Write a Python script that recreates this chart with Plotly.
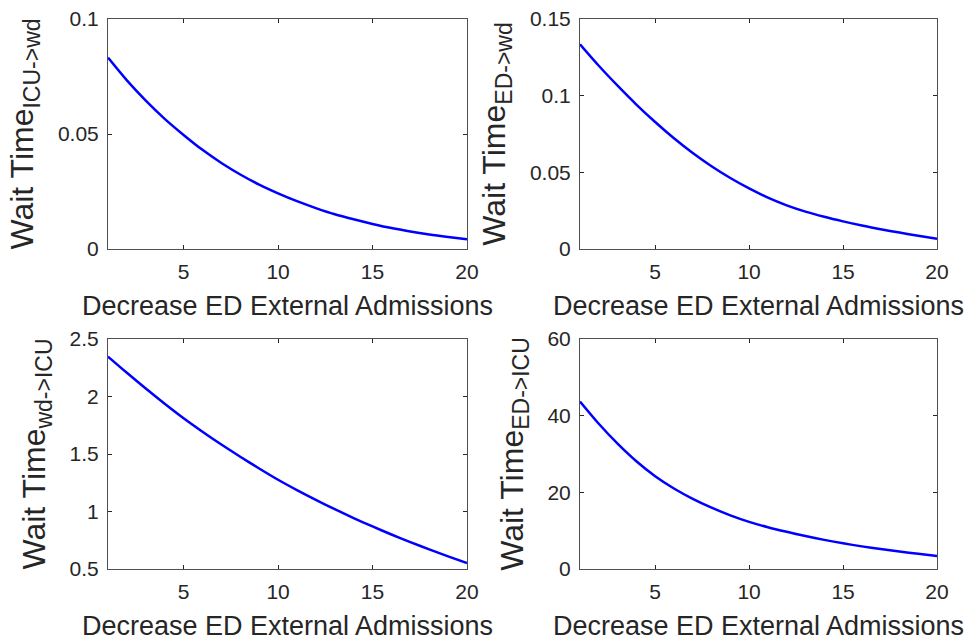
import plotly.graph_objects as go

# Decrease in ED external admissions (x axis, shared by all panels)
decrease = list(range(1, 21))

# Mean wait times for each transfer path
wait_icu_wd = [0.0832, 0.0733, 0.0645, 0.0566, 0.0496, 0.0431, 0.0374, 0.0324, 0.0280, 0.0242,
               0.0208, 0.0178, 0.0151, 0.0129, 0.0109, 0.0091, 0.0076, 0.0063, 0.0052, 0.0042]
wait_ed_wd = [0.1335, 0.1195, 0.1065, 0.0942, 0.0828, 0.0722, 0.0626, 0.0540, 0.0463, 0.0395,
              0.0335, 0.0285, 0.0244, 0.0210, 0.0180, 0.0153, 0.0129, 0.0107, 0.0086, 0.0067]
wait_wd_icu = [2.347, 2.206, 2.069, 1.937, 1.811, 1.694, 1.582, 1.476, 1.374, 1.276,
               1.186, 1.101, 1.020, 0.943, 0.870, 0.800, 0.734, 0.671, 0.610, 0.552]
wait_ed_icu = [43.7, 37.9, 32.7, 28.1, 24.2, 21.0, 18.3, 16.0, 14.0, 12.3,
               10.9, 9.7, 8.6, 7.6, 6.7, 5.9, 5.2, 4.55, 3.95, 3.4]

x_ticks = [5, 10, 15, 20]
x_title = "Decrease ED External Admissions"

panels = [
    dict(y=wait_icu_wd, sub="ICU-&gt;wd", yrange=[0, 0.1], yticks=[0, 0.05, 0.1],
         ylabels=["0", "0.05", "0.1"]),
    dict(y=wait_ed_wd, sub="ED-&gt;wd", yrange=[0, 0.15], yticks=[0, 0.05, 0.1, 0.15],
         ylabels=["0", "0.05", "0.1", "0.15"]),
    dict(y=wait_wd_icu, sub="wd-&gt;ICU", yrange=[0.5, 2.5], yticks=[0.5, 1, 1.5, 2, 2.5],
         ylabels=["0.5", "1", "1.5", "2", "2.5"]),
    dict(y=wait_ed_icu, sub="ED-&gt;ICU", yrange=[0, 60], yticks=[0, 20, 40, 60],
         ylabels=["0", "20", "40", "60"]),
]

W, H = 968, 641
# panel boxes in pixels: (left, right, top, bottom)
boxes = [(108, 467, 19, 249), (580, 937, 19, 249),
         (108, 467, 339, 569), (580, 937, 339, 569)]

FONT = "Liberation Sans, Arial, sans-serif"
AX = "#262626"
BOX = "#505050"

fig = go.Figure()
layout = dict(width=W, height=H, margin=dict(l=0, r=0, t=0, b=0, autoexpand=False),
              paper_bgcolor="white", plot_bgcolor="white", showlegend=False,
              font=dict(family=FONT, color=AX))

for i, (p, (l, r, t, b)) in enumerate(zip(panels, boxes), start=1):
    xa = "x" if i == 1 else f"x{i}"
    ya = "y" if i == 1 else f"y{i}"
    fig.add_trace(go.Scatter(x=decrease, y=p["y"], mode="lines",
                             line=dict(color="#0000ff", width=2.5,
                                       shape="spline", smoothing=0.8),
                             xaxis=xa, yaxis=ya))
    xdom = [l / W, r / W]
    ydom = [1 - b / H, 1 - t / H]
    layout["xaxis" if i == 1 else f"xaxis{i}"] = dict(
        domain=xdom, anchor=ya, range=[1, 20], tickvals=x_ticks, automargin=False,
        ticks="inside", ticklen=4, tickcolor=AX, showline=True, linecolor=BOX,
        linewidth=1, mirror="ticks", showgrid=False, zeroline=False,
        tickfont=dict(size=21, color=AX), ticklabelstandoff=4,
        title=dict(text=x_title, font=dict(size=27, color=AX), standoff=13))
    layout["yaxis" if i == 1 else f"yaxis{i}"] = dict(
        domain=ydom, anchor=xa, range=p["yrange"], tickvals=p["yticks"],
        ticktext=p["ylabels"], automargin=False,
        ticks="inside", ticklen=4, tickcolor=AX, showline=True, linecolor=BOX,
        linewidth=1, mirror="ticks", showgrid=False, zeroline=False,
        tickfont=dict(size=21, color=AX), ticklabelstandoff=4,
        title=dict(text=("Wait Time<sub><span style='font-size:23px'>"
                         f"{p['sub']}</span></sub>"),
                   font=dict(size=32, color=AX), standoff=14))

fig.update_layout(**layout)
fig.write_html("out.html")
